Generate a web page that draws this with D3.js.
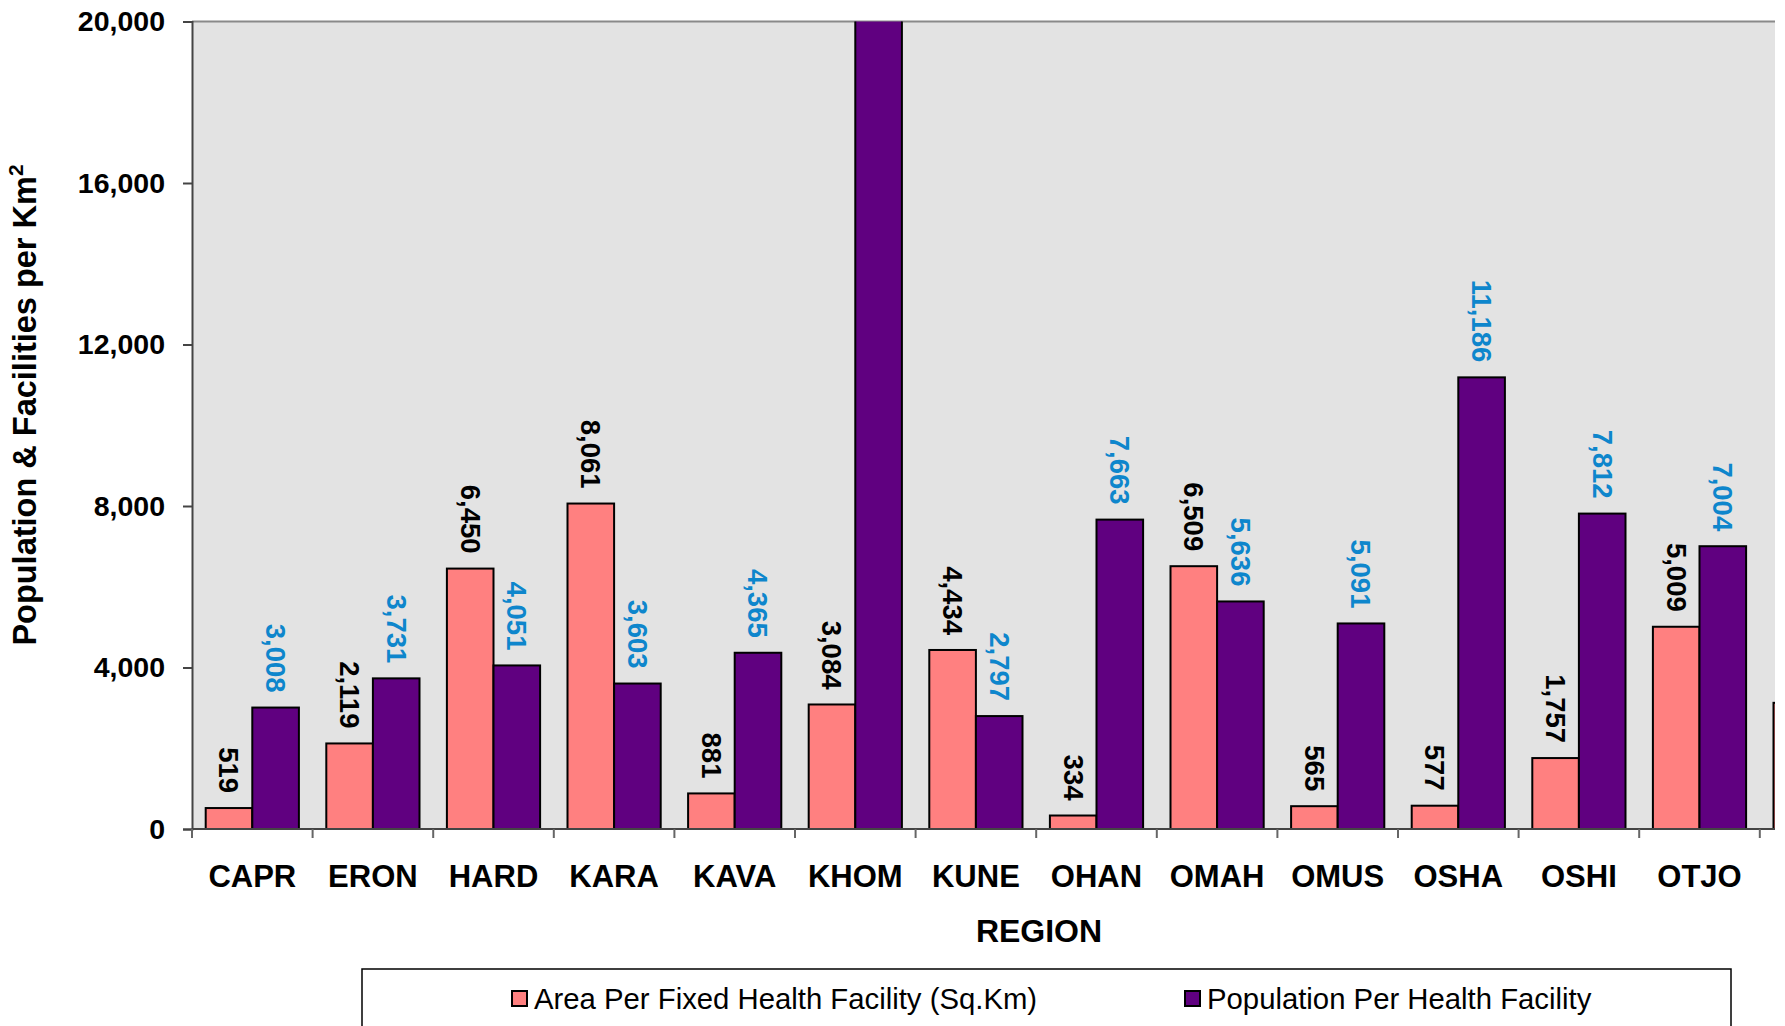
<!DOCTYPE html>
<html>
<head>
<meta charset="utf-8">
<script src="https://cdn.jsdelivr.net/npm/d3@7"></script>
<style>
  html, body { margin: 0; padding: 0; background: #fff; }
  svg { display: block; font-family: "Liberation Sans", Arial, sans-serif; }
</style>
</head>
<body>
<svg id="chart" width="1785" height="1026"></svg>
<script>
// ---- data ----
const regions = ["CAPR","ERON","HARD","KARA","KAVA","KHOM","KUNE","OHAN","OMAH","OMUS","OSHA","OSHI","OTJO","NAM"];
const areaPerFacility = [519, 2119, 6450, 8061, 881, 3084, 4434, 334, 6509, 565, 577, 1757, 5009, 3125];
const popPerFacility  = [3008, 3731, 4051, 3603, 4365, 26000, 2797, 7663, 5636, 5091, 11186, 7812, 7004, null];
const seriesNames = ["Area Per Fixed Health Facility (Sq.Km)", "Population Per Health Facility"];
const yTicks = [0, 4000, 8000, 12000, 16000, 20000];
const visibleLabels = 13; // categories whose labels fall inside the picture

(function () {
// ---- layout ----
const plotLeft = 192, plotTop = 21.5, plotBottom = 829, visRight = 1775;
const band = 120.6;
const svg = d3.select("#chart");

const x = d3.scaleBand().domain(regions).range([plotLeft, plotLeft + band * regions.length]).padding(0);
const xs = d3.scaleBand().domain(["area", "pop"]).range([13.7, x.bandwidth() - 13.7]).padding(0);
const y = d3.scaleLinear().domain([0, 20000]).range([plotBottom, plotTop]);

const colors = { area: "#ff8080", pop: "#600080" };
const labelColors = { area: "#000000", pop: "#0e86cc" };

svg.append("defs").append("clipPath").attr("id", "plotclip")
  .append("rect").attr("x", plotLeft).attr("y", plotTop).attr("width", visRight - plotLeft).attr("height", plotBottom - plotTop + 1);

// background
svg.append("rect").attr("x", plotLeft).attr("y", plotTop).attr("width", visRight - plotLeft).attr("height", plotBottom - plotTop)
  .attr("fill", "#e3e3e3");
// top border
svg.append("line").attr("x1", plotLeft).attr("x2", visRight).attr("y1", plotTop).attr("y2", plotTop)
  .attr("stroke", "#8a8a8a").attr("stroke-width", 2);

const data = [];
regions.forEach((r, i) => {
  data.push({ region: r, key: "area", value: areaPerFacility[i], idx: i });
  if (popPerFacility[i] != null) data.push({ region: r, key: "pop", value: popPerFacility[i], idx: i });
});

const g = svg.append("g").attr("clip-path", "url(#plotclip)");
g.selectAll("rect.bar").data(data).join("rect")
  .attr("class", "bar")
  .attr("x", d => x(d.region) + xs(d.key))
  .attr("y", d => y(Math.min(d.value, 20500)))
  .attr("width", xs.bandwidth())
  .attr("height", d => y(0) - y(Math.min(d.value, 20500)))
  .attr("fill", d => colors[d.key])
  .attr("stroke", "#000").attr("stroke-width", 2);

// value labels (rotated)
const fmt = d3.format(",");
svg.selectAll("text.val").data(data.filter(d => d.value <= 20000 && d.idx < visibleLabels)).join("text")
  .attr("class", "val")
  .attr("transform", d => `translate(${x(d.region) + xs(d.key) + xs.bandwidth() / 2},${y(d.value) - 15}) rotate(90)`)
  .attr("text-anchor", "end")
  .attr("dy", "0.35em")
  .attr("font-size", 27.5).attr("font-weight", "bold")
  .attr("fill", d => labelColors[d.key])
  .text(d => fmt(d.value));

// y axis
const yAxis = svg.append("g").attr("transform", `translate(${plotLeft},0)`)
  .call(d3.axisLeft(y).tickValues(yTicks).tickFormat(d3.format(",")).tickSize(9).tickPadding(18));
yAxis.select(".domain").attr("stroke", "#444").attr("stroke-width", 2);
yAxis.selectAll(".tick line").attr("stroke", "#444").attr("stroke-width", 2);
yAxis.selectAll(".tick text").attr("font-size", 28.5).attr("font-weight", "bold").attr("fill", "#000")
  .attr("font-family", "Liberation Sans, Arial, sans-serif");

// x axis
const xAxisG = svg.append("g").attr("transform", `translate(0,${plotBottom})`);
xAxisG.append("line").attr("x1", plotLeft).attr("x2", visRight).attr("y1", 0).attr("y2", 0)
  .attr("stroke", "#444").attr("stroke-width", 2);
const tickPos = regions.map(r => x(r)).filter(p => p <= visRight);
xAxisG.selectAll("line.tk").data(tickPos).join("line").attr("class", "tk")
  .attr("x1", d => d).attr("x2", d => d).attr("y1", 0).attr("y2", 9)
  .attr("stroke", "#666").attr("stroke-width", 2);
xAxisG.selectAll("text.cat").data(regions.slice(0, visibleLabels)).join("text").attr("class", "cat")
  .attr("x", d => x(d) + x.bandwidth() / 2).attr("y", 58)
  .attr("text-anchor", "middle").attr("font-size", 31).attr("font-weight", "bold").attr("fill", "#000")
  .text(d => d);

// axis titles
svg.append("text").attr("x", 1039).attr("y", 942).attr("text-anchor", "middle")
  .attr("font-size", 32).attr("font-weight", "bold").text("REGION");
const yt = svg.append("text").attr("transform", "translate(36,405) rotate(-90)").attr("text-anchor", "middle")
  .attr("font-size", 32.5).attr("font-weight", "bold");
yt.append("tspan").text("Population & Facilities per Km");
yt.append("tspan").attr("font-size", 21).attr("dy", -13).text("2");

// legend
svg.append("rect").attr("x", 362).attr("y", 969).attr("width", 1731 - 362).attr("height", 80)
  .attr("fill", "#fff").attr("stroke", "#000").attr("stroke-width", 1.5);
const legendItems = [
  { key: "area", name: seriesNames[0], x: 512 },
  { key: "pop", name: seriesNames[1], x: 1185 }
];
const lg = svg.selectAll("g.leg").data(legendItems).join("g").attr("class", "leg")
  .attr("transform", d => `translate(${d.x},999)`);
lg.append("rect").attr("x", 0).attr("y", -8).attr("width", 15).attr("height", 15)
  .attr("fill", d => colors[d.key]).attr("stroke", "#000").attr("stroke-width", 2);
lg.append("text").attr("x", 22).attr("dy", "0.35em").attr("font-size", 29.3).attr("fill", "#000")
  .text(d => d.name);
})();
</script>
</body>
</html>
